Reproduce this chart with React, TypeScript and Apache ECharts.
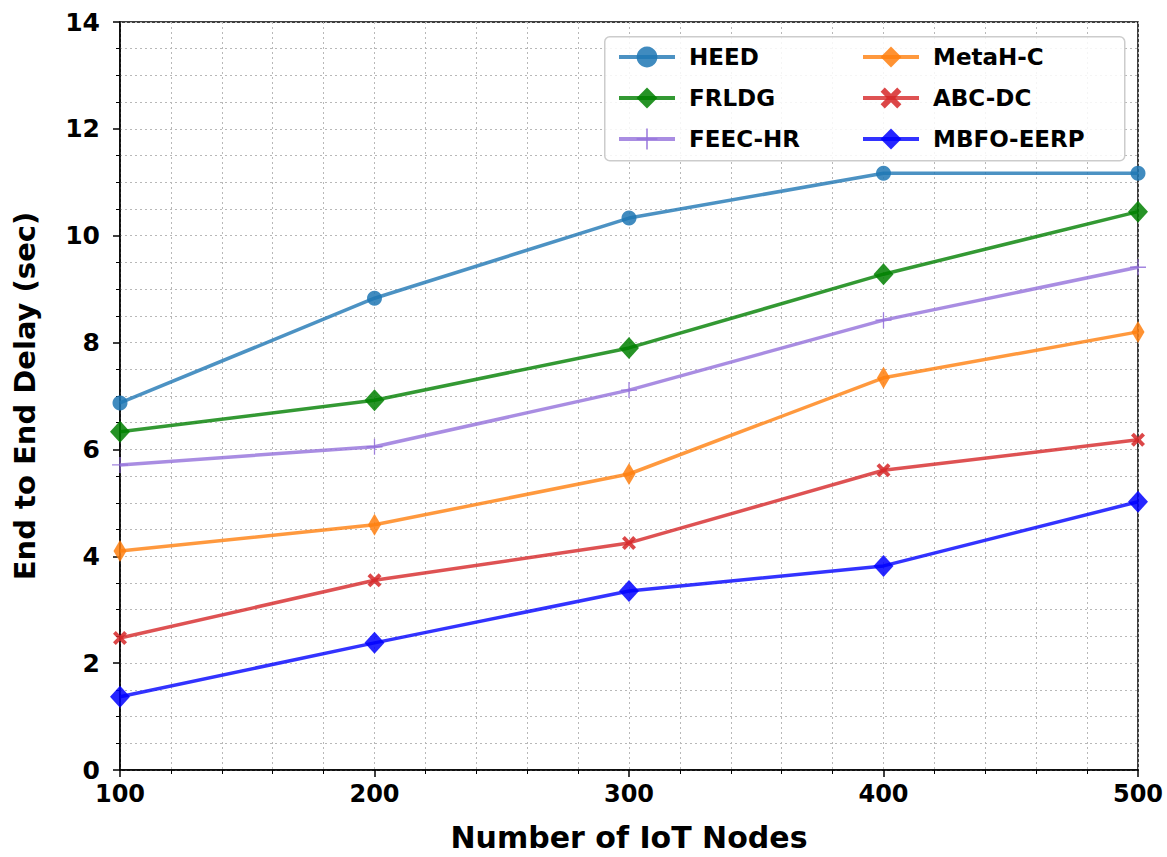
import React, { useEffect, useRef } from "react";
import * as echarts from "echarts";

const xValues = [100, 200, 300, 400, 500];
const seriesNames = ["HEED", "FRLDG", "FEEC-HR", "MetaH-C", "ABC-DC", "MBFO-EERP"];
const heed = [6.87, 8.83, 10.33, 11.17, 11.17];
const frldg = [6.33, 6.92, 7.9, 9.28, 10.45];
const feecHr = [5.71, 6.05, 7.11, 8.42, 9.41];
const metahC = [4.1, 4.59, 5.54, 7.34, 8.2];
const abcDc = [2.47, 3.55, 4.25, 5.61, 6.18];
const mbfoEerp = [1.37, 2.38, 3.35, 3.82, 5.02];
const yTicks = [0, 2, 4, 6, 8, 10, 12, 14];
const xTicks = [100, 200, 300, 400, 500];

const X_PATH =
  "path://M-1,-0.6 L-0.6,-1 L0,-0.4 L0.6,-1 L1,-0.6 L0.4,0 L1,0.6 L0.6,1 L0,0.4 L-0.6,1 L-1,0.6 L-0.4,0 Z";
const PLUS_PATH =
  "path://M-0.08,-1 L0.08,-1 L0.08,-0.08 L1,-0.08 L1,0.08 L0.08,0.08 L0.08,1 L-0.08,1 L-0.08,0.08 L-1,0.08 L-1,-0.08 L-0.08,-0.08 Z";

const FONT = "DejaVu Sans";

export default function App() {
  const ref = useRef<HTMLDivElement>(null);
  useEffect(() => {
    if (!ref.current) return;
    const chart = echarts.init(ref.current, undefined, { renderer: "svg" });
    const values = [heed, frldg, feecHr, metahC, abcDc, mbfoEerp];
    const colors = ["#1f77b4", "#008000", "#9370db", "#ff7f0e", "#d62728", "#0000ff"];
    const symbols = ["circle", "diamond", PLUS_PATH, "diamond", X_PATH, "diamond"];
    const sizes: any[] = [15, [20, 22], 16, [13, 22], 14, [20, 22]];
    const series = seriesNames.map((name, i) => ({
      name,
      type: "line",
      data: xValues.map((x, j) => [x, values[i][j]]),
      symbol: symbols[i],
      symbolSize: sizes[i],
      showAllSymbol: true,
      clip: true,
      lineStyle: { color: colors[i], width: 3.5, opacity: 0.8 },
      itemStyle: { color: colors[i], opacity: 0.85 },
      color: colors[i],
      z: 2 + i,
    }));
    const gridLine = { show: true, lineStyle: { color: "#b8b8b8", type: [2, 3], width: 1 } };
    const legendCommon = {
      orient: "vertical",
      top: 39,
      itemWidth: 56,
      itemHeight: 26,
      itemGap: 15,
      lineStyle: { width: 4 },
      textStyle: {
        fontFamily: FONT,
        fontWeight: "bold",
        fontSize: 23,
        color: "#000",
        lineHeight: 26,
        padding: [0, 0, 0, 9],
      },
      z: 10,
    };
    chart.setOption({
      animation: false,
      backgroundColor: "#fff",
      textStyle: { fontFamily: FONT },
      grid: {
        left: 120,
        right: 29,
        top: 22,
        bottom: 87,
        show: true,
        borderColor: "#000",
        borderWidth: 1.5,
        backgroundColor: "transparent",
      },
      legend: [
        { ...legendCommon, left: 612, data: seriesNames.slice(0, 3) },
        { ...legendCommon, left: 856, data: seriesNames.slice(3) },
      ],
      graphic: [
        {
          type: "rect",
          left: 604,
          top: 36,
          shape: { width: 520, height: 124, r: 5 },
          style: { fill: "rgba(255,255,255,0.85)", stroke: "#cccccc", lineWidth: 1.5 },
          z: 8,
        },
      ],
      xAxis: {
        type: "value",
        min: xTicks[0],
        max: xTicks[xTicks.length - 1],
        interval: 100,
        name: "Number of IoT Nodes",
        nameLocation: "middle",
        nameGap: 52,
        nameTextStyle: { fontFamily: FONT, fontWeight: "bold", fontSize: 30, color: "#000" },
        axisLine: { show: true, lineStyle: { color: "#000", width: 1.5 } },
        axisTick: { show: true, length: 7, lineStyle: { color: "#000", width: 1.5 } },
        minorTick: { show: true, splitNumber: 5, length: 4, lineStyle: { color: "#000", width: 1 } },
        axisLabel: { fontFamily: FONT, fontWeight: "bold", fontSize: 24, color: "#000", margin: 12 },
        splitLine: gridLine,
        minorSplitLine: gridLine,
      },
      yAxis: {
        type: "value",
        min: yTicks[0],
        max: yTicks[yTicks.length - 1],
        interval: 2,
        name: "End to End Delay (sec)",
        nameLocation: "middle",
        nameGap: 81,
        nameTextStyle: { fontFamily: FONT, fontWeight: "bold", fontSize: 29, color: "#000" },
        axisLine: { show: true, lineStyle: { color: "#000", width: 1.5 } },
        axisTick: { show: true, length: 7, lineStyle: { color: "#000", width: 1.5 } },
        minorTick: { show: true, splitNumber: 4, length: 4, lineStyle: { color: "#000", width: 1 } },
        axisLabel: { fontFamily: FONT, fontWeight: "bold", fontSize: 25, color: "#000", margin: 20 },
        splitLine: gridLine,
        minorSplitLine: gridLine,
      },
      series,
    });
    return () => chart.dispose();
  }, []);
  return (
    <div
      ref={ref}
      style={{ position: "fixed", left: 0, top: 0, width: 1167, height: 857 }}
    />
  );
}
